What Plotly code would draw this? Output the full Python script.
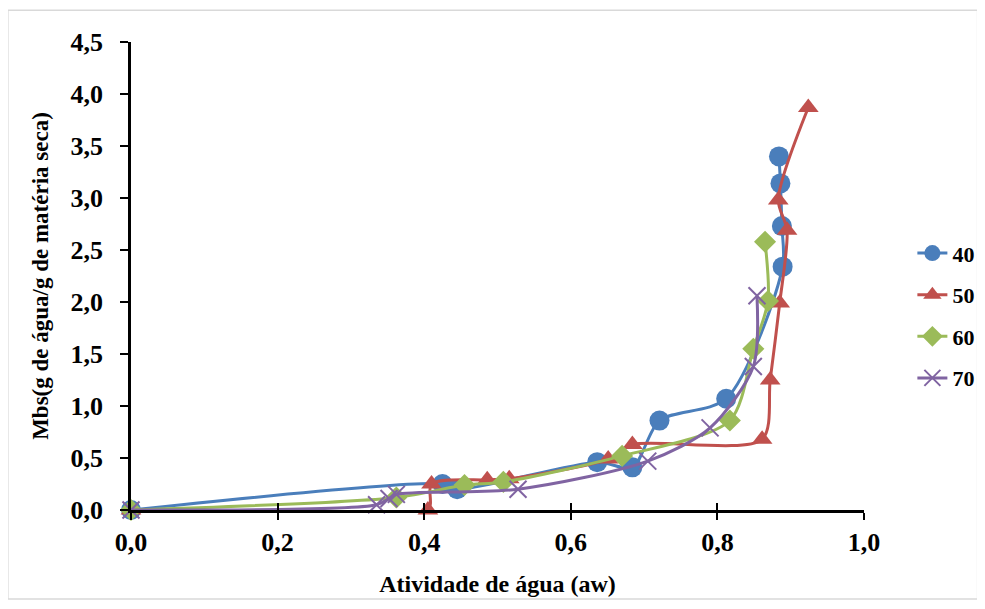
import plotly.graph_objects as go

# Data
names = ["40", "50", "60", "70"]
aw_40 = [0.0, 0.425, 0.445, 0.636, 0.684, 0.721, 0.812, 0.889, 0.888, 0.886, 0.884]
mbs_40 = [0.0, 0.25, 0.20, 0.46, 0.41, 0.86, 1.07, 2.34, 2.73, 3.14, 3.40]
aw_50 = [0.0, 0.405, 0.410, 0.486, 0.516, 0.651, 0.684, 0.861, 0.872, 0.885, 0.895, 0.883, 0.924]
mbs_50 = [0.0, 0.0, 0.25, 0.29, 0.30, 0.49, 0.63, 0.68, 1.25, 1.99, 2.69, 2.98, 3.87]
aw_60 = [0.0, 0.362, 0.455, 0.508, 0.670, 0.817, 0.849, 0.869, 0.865]
mbs_60 = [0.0, 0.12, 0.24, 0.27, 0.52, 0.86, 1.55, 2.01, 2.58]
aw_70 = [0.0, 0.335, 0.352, 0.362, 0.528, 0.705, 0.790, 0.849, 0.854]
mbs_70 = [0.0, 0.05, 0.11, 0.15, 0.20, 0.47, 0.79, 1.38, 2.06]

x_ticks = [0.0, 0.2, 0.4, 0.6, 0.8, 1.0]
x_labels = ["0,0", "0,2", "0,4", "0,6", "0,8", "1,0"]
y_ticks = [0.0, 0.5, 1.0, 1.5, 2.0, 2.5, 3.0, 3.5, 4.0, 4.5]
y_labels = ["0,0", "0,5", "1,0", "1,5", "2,0", "2,5", "3,0", "3,5", "4,0", "4,5"]

colors = ["#4A7EBB", "#C0504D", "#9BBB59", "#8064A2"]
symbols = ["circle", "triangle-up", "diamond", "x-thin"]
sizes = [20, 18, 17, 17]
xs = [aw_40, aw_50, aw_60, aw_70]
ys = [mbs_40, mbs_50, mbs_60, mbs_70]

font_family = "Liberation Serif, Times New Roman, serif"

fig = go.Figure()
for i, nm in enumerate(names):
    mk = dict(symbol=symbols[i], size=sizes[i], color=colors[i])
    if symbols[i] == "x-thin":
        mk["line"] = dict(width=2, color=colors[i])
    fig.add_trace(go.Scatter(
        x=xs[i], y=ys[i], name=nm, mode="lines+markers",
        line=dict(color=colors[i], width=3, shape="spline", smoothing=0.8),
        marker=mk, legendgroup=nm, cliponaxis=False,
    ))

# helper trace to draw crossing x ticks (inside part)
fig.add_trace(go.Scatter(x=[None], y=[None], xaxis="x2", showlegend=False, hoverinfo="skip"))

# page body has an 8px margin; figure is sized/offset to compensate
fig.update_layout(
    width=969, height=593,
    margin=dict(l=123, r=113, t=34, b=91, autoexpand=False),
    paper_bgcolor="white", plot_bgcolor="white",
    font=dict(family=font_family, color="black"),
    xaxis=dict(
        range=[0, 1.0], tickvals=x_ticks, ticktext=x_labels, automargin=False,
        showgrid=False, zeroline=False, showline=True, linecolor="black", linewidth=2.5,
        ticks="outside", ticklen=7, tickwidth=2, tickcolor="black",
        tickfont=dict(size=26, family=font_family, color="black", weight="bold"),
        title=dict(text="<b>Atividade de água (aw)</b>", font=dict(size=24, family=font_family), standoff=20),
    ),
    xaxis2=dict(
        range=[0, 1.0], overlaying="x", anchor="y", side="bottom", automargin=False,
        tickvals=x_ticks, showticklabels=False, showgrid=False, zeroline=False,
        showline=False, ticks="inside", ticklen=7, tickwidth=2, tickcolor="black",
    ),
    yaxis=dict(
        range=[0, 4.5], tickvals=y_ticks, ticktext=y_labels, automargin=False,
        showgrid=False, zeroline=False, showline=True, linecolor="black", linewidth=2.5,
        ticks="outside", ticklen=8, tickwidth=2, tickcolor="black",
        tickfont=dict(size=26, family=font_family, color="black", weight="bold"),
        ticklabelstandoff=12,
        title=dict(text="<b>Mbs(g de água/g de matéria seca)</b>", font=dict(size=23, family=font_family), standoff=16),
    ),
    legend=dict(
        x=1.066, y=0.415, xanchor="left", yanchor="middle",
        font=dict(size=22, family=font_family, color="black", weight="bold"),
        tracegroupgap=10, itemwidth=30, bgcolor="rgba(0,0,0,0)",
    ),
    shapes=[dict(type="rect", xref="paper", yref="paper",
                 x0=-0.168, x1=1.155, y0=-0.19, y1=1.068,
                 line=dict(color="#D9D9D9", width=1.5), fillcolor="rgba(0,0,0,0)", layer="below")],
)

fig.write_html("out.html")
